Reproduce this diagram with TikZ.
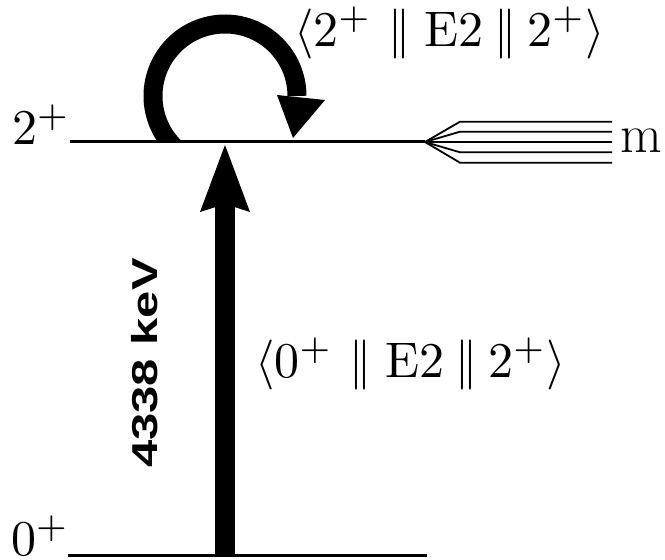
\documentclass[tikz,border=0pt]{standalone}
\usepackage{fontspec}
\usepackage{graphicx}
\newfontfamily\lsans{Liberation Sans}
\usetikzlibrary{arrows.meta}
\newcommand{\bigmath}[1]{\scalebox{5}{\fontsize{10}{12}\selectfont$#1$}}
\newcommand{\dbar}{\mathord{|\kern-1.18pt|}}
\newcommand{\redm}[2]{\langle #1^+\mkern6mu\dbar\mkern5mu\mathrm{E2}\mkern4mu\dbar\mkern4mu #2^+\rangle}
\begin{document}
\begin{tikzpicture}[x=1pt,y=1pt,
  level/.style={line width=3pt},
  fanline/.style={line width=1.8pt},
  lbl/.style={inner sep=0pt, anchor=base west},
  kevlbl/.style={inner sep=0pt, rotate=90, font=\lsans\bfseries\fontsize{36}{40}\selectfont},
  transition/.style={line width=20pt, -{Stealth[length=67pt,width=50pt,inset=8pt,line width=0pt]}},
  loop/.style={line width=19pt}
]
\useasboundingbox (0,0) rectangle (665,560);
% levels
\coordinate (g0) at (68,4); \coordinate (g1) at (427,4);
\coordinate (u0) at (70,418); \coordinate (u1) at (425,418);
% vertical transition
\coordinate (ab) at (225,4); \coordinate (at) at (225,415);
\draw[transition] (ab) -- (at);
\draw[level] (g0) -- (g1);
\draw[level] (u0) -- (u1);
\foreach \i/\y in {1/438.3,2/428.3,3/418,4/407.7,5/397.3} {
  \coordinate (fa\i) at (460,\y); \coordinate (fb\i) at (612,\y);
  \draw[fanline] (u1) -- (fa\i) -- (fb\i);
}
% self loop
\coordinate (lc) at (225,464);
\begin{scope}
\clip (100,418) rectangle (400,560);
\draw[loop] (lc) ++(235:72) arc[start angle=235,end angle=0,radius=72];
\end{scope}
\coordinate (h1) at (277,465); \coordinate (h2) at (325,460); \coordinate (h3) at (293,422);
\fill (h1) -- (h2) -- (h3) -- cycle;
% labels
\node[lbl] (L2) at (12,415) {\bigmath{2^+}};
\node[lbl] (L0) at (11,4) {\bigmath{0^+}};
\node[lbl, font=\fontsize{54}{60}\selectfont] (m) at (620,407) {m};
\node[lbl] (M1) at (294,513) {\bigmath{\redm{2}{2}}};
\node[lbl] (M2) at (255,182) {\bigmath{\redm{0}{2}}};
\node[kevlbl] (kev) at (144.5,197) {\scalebox{1.36}[1]{4338 keV}};
\end{tikzpicture}
\end{document}
